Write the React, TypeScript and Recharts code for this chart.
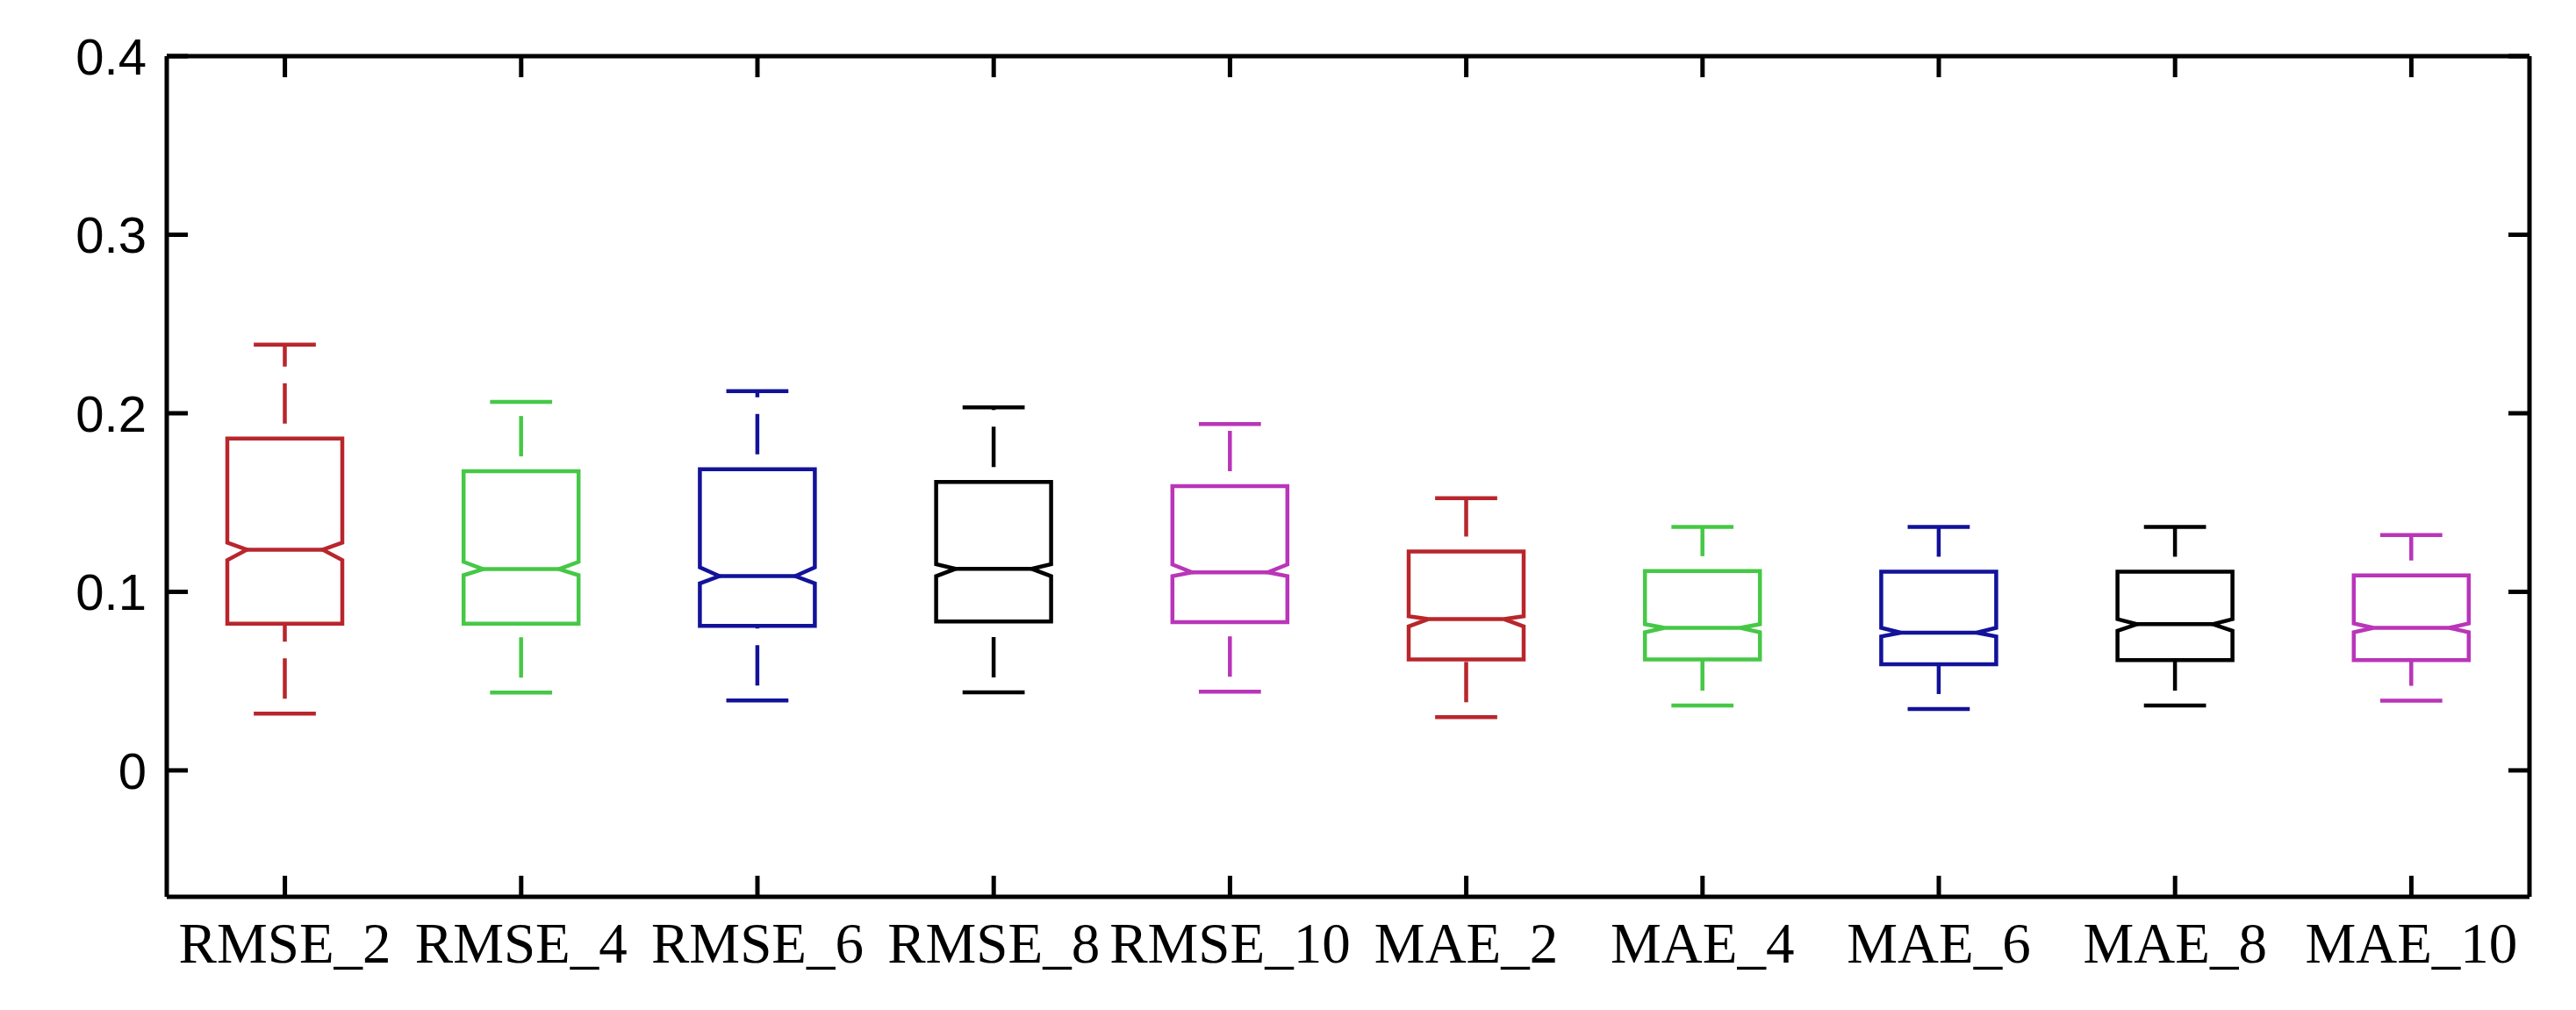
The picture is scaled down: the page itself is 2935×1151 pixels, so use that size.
import React from "react";
import { ComposedChart, Bar, XAxis, YAxis } from "recharts";

// box statistics
const categories = ["RMSE_2", "RMSE_4", "RMSE_6", "RMSE_8", "RMSE_10", "MAE_2", "MAE_4", "MAE_6", "MAE_8", "MAE_10"];
const lowerWhisker = [0.0318, 0.0436, 0.0392, 0.0437, 0.0441, 0.0298, 0.0363, 0.0344, 0.0363, 0.039];
const q1 = [0.0822, 0.0822, 0.0809, 0.0834, 0.083, 0.0621, 0.0621, 0.0594, 0.0618, 0.0618];
const median = [0.1236, 0.1127, 0.1088, 0.1129, 0.1109, 0.0847, 0.0798, 0.0771, 0.0819, 0.0798];
const q3 = [0.1858, 0.1675, 0.1686, 0.1615, 0.1592, 0.1226, 0.1116, 0.1113, 0.1113, 0.1092];
const upperWhisker = [0.2385, 0.2064, 0.2124, 0.2033, 0.194, 0.1524, 0.1363, 0.1363, 0.1363, 0.1318];
const notchHigh = [0.1275, 0.1168, 0.1137, 0.1155, 0.1153, 0.0863, 0.0819, 0.0798, 0.0847, 0.0823];
const notchLow = [0.1178, 0.1093, 0.1047, 0.1088, 0.1088, 0.0806, 0.0774, 0.075, 0.0782, 0.0774];
const boxColors = ["#b8262c", "#46c846", "#12129a", "#000000", "#b935b9", "#b8262c", "#46c846", "#12129a", "#000000", "#b935b9"];

const yTicks = [0, 0.1, 0.2, 0.3, 0.4];
const yDomain = [-0.0708, 0.4];

const data = categories.map((name, i) => ({
  name,
  lo: lowerWhisker[i],
  q1: q1[i],
  med: median[i],
  q3: q3[i],
  hi: upperWhisker[i],
  nLo: notchLow[i],
  nHi: notchHigh[i],
  color: boxColors[i],
}));

const FRAME = 5;
const LINE = 4.5;
const TICK = 24;

function NotchedBox(props: any) {
  const { x, y, width, height, index } = props;
  const d = props.payload && props.payload.med != null ? props.payload : data[index];
  const top = Math.min(y, y + height);
  const h = Math.abs(height);
  // bar spans [lo, hi], so map values inside it with the bar's own pixel extent
  const py = (v: number) => top + (h * (d.hi - v)) / (d.hi - d.lo);
  const x0 = x;
  const x1 = x + width;
  const cx = x + width / 2;
  const ins = width * 0.17;
  const cap = width * 0.27;
  const path = [
    `M${x0},${py(d.q3)}`,
    `H${x1}`,
    `V${py(d.nHi)}`,
    `L${x1 - ins},${py(d.med)}`,
    `L${x1},${py(d.nLo)}`,
    `V${py(d.q1)}`,
    `H${x0}`,
    `V${py(d.nLo)}`,
    `L${x0 + ins},${py(d.med)}`,
    `L${x0},${py(d.nHi)}`,
    "Z",
  ].join(" ");
  return (
    <g stroke={d.color} strokeWidth={LINE} fill="none">
      <line x1={cx} y1={py(d.q3)} x2={cx} y2={py(d.hi)} strokeDasharray="46 19" strokeDashoffset={48} />
      <line x1={cx} y1={py(d.lo)} x2={cx} y2={py(d.q1)} strokeDasharray="46 19" strokeDashoffset={48} />
      <line x1={cx - cap} y1={py(d.hi)} x2={cx + cap} y2={py(d.hi)} />
      <line x1={cx - cap} y1={py(d.lo)} x2={cx + cap} y2={py(d.lo)} />
      <path d={path} strokeLinejoin="miter" />
      <line x1={x0 + ins} y1={py(d.med)} x2={x1 - ins} y2={py(d.med)} />
    </g>
  );
}

const XTick = (p: any) => (
  <text x={p.x} y={p.y + 75} textAnchor="middle" fontFamily="'Liberation Serif', 'Times New Roman', serif" fontSize={65} fill="#000">
    {p.payload.value}
  </text>
);

const YTick = (p: any) => (
  <text x={p.x} y={p.y} dy="0.36em" textAnchor="end" fontFamily="'Liberation Sans', Arial, sans-serif" fontSize={58} fill="#000">
    {p.payload.value}
  </text>
);

const NoTick = () => <g />;

const axisLine = { stroke: "#000", strokeWidth: FRAME };
const tickLine = { stroke: "#000", strokeWidth: FRAME };

export default function App() {
  return (
    <div style={{ position: "absolute", left: 0, top: 0, background: "#fff" }}>
      <ComposedChart width={2935} height={1151} data={data} margin={{ top: 0, right: 0, bottom: 0, left: 0 }}>
        <XAxis
          dataKey="name"
          height={129}
          interval={0}
          axisLine={axisLine}
          tickLine={tickLine}
          tickSize={-TICK}
          tickMargin={TICK}
          tick={XTick}
        />
        <XAxis
          xAxisId="top"
          dataKey="name"
          orientation="top"
          height={64}
          interval={0}
          axisLine={axisLine}
          tickLine={tickLine}
          tickSize={-TICK}
          tick={NoTick}
        />
        <YAxis
          type="number"
          width={190}
          domain={yDomain}
          ticks={yTicks}
          allowDataOverflow
          axisLine={axisLine}
          tickLine={tickLine}
          tickSize={-TICK}
          tickMargin={TICK + 23}
          tick={YTick}
        />
        <YAxis
          yAxisId="right"
          orientation="right"
          type="number"
          width={53}
          domain={yDomain}
          ticks={yTicks}
          allowDataOverflow
          axisLine={axisLine}
          tickLine={tickLine}
          tickSize={-TICK}
          tick={NoTick}
        />
        <Bar dataKey={(d: any) => [d.lo, d.hi]} barSize={131} shape={NotchedBox} isAnimationActive={false} />
      </ComposedChart>
    </div>
  );
}
